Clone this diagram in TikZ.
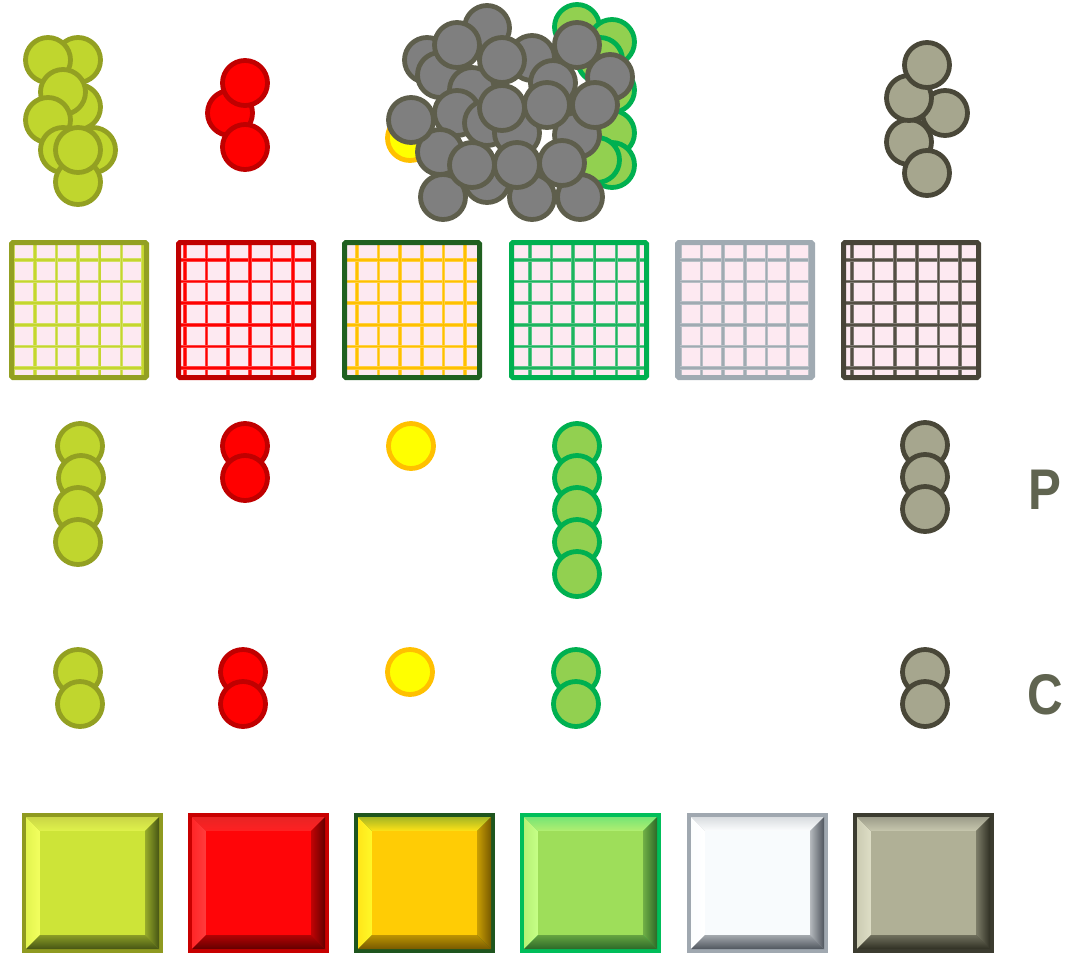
\documentclass[tikz,border=0pt]{standalone}
\usepackage{fontspec}
\setmainfont{Liberation Sans}
\newfontfamily\narrowsans[FakeStretch=0.86]{Liberation Sans}
\usepackage{tikz}
\usepackage{xcolor}
% ball colours
\definecolor{olivefill}{RGB}{192,214,46}
\definecolor{oliveline}{RGB}{147,160,34}
\definecolor{redfill}{RGB}{255,0,0}
\definecolor{redline}{RGB}{192,0,0}
\definecolor{yelfill}{RGB}{255,255,0}
\definecolor{yelline}{RGB}{255,192,0}
\definecolor{grnfill}{RGB}{146,208,80}
\definecolor{grnline}{RGB}{0,176,80}
\definecolor{taupefill}{RGB}{166,166,142}
\definecolor{taupeline}{RGB}{73,71,56}
\definecolor{grayfill}{RGB}{127,127,127}
\definecolor{grayline}{RGB}{94,94,76}
\definecolor{labelgray}{RGB}{96,100,80}
% grid colours
\definecolor{gridpink}{RGB}{253,233,241}
\definecolor{gridolv}{RGB}{197,214,46}
\definecolor{gridgrnb}{RGB}{32,96,32}
\definecolor{gridgrn}{RGB}{30,180,95}
\definecolor{gridsil}{RGB}{160,170,178}
\definecolor{gridbrn}{RGB}{72,68,56}
\definecolor{gridbrnl}{RGB}{84,78,68}
% tile colours
\definecolor{tedgeA}{RGB}{143,154,32}\definecolor{tfaceA}{RGB}{205,228,56}
\definecolor{tliteA}{RGB}{242,255,95}\definecolor{tdarkA}{RGB}{70,85,20}
\definecolor{tedgeB}{RGB}{200,0,0}\definecolor{tfaceB}{RGB}{255,5,8}
\definecolor{tliteB}{RGB}{255,60,60}\definecolor{tdarkB}{RGB}{100,0,0}
\definecolor{tedgeC}{RGB}{30,85,30}\definecolor{tfaceC}{RGB}{255,204,5}
\definecolor{tliteC}{RGB}{255,248,40}\definecolor{tdarkC}{RGB}{120,90,0}
\definecolor{tedgeD}{RGB}{0,190,90}\definecolor{tfaceD}{RGB}{158,222,90}
\definecolor{tliteD}{RGB}{198,255,135}\definecolor{tdarkD}{RGB}{45,105,40}
\definecolor{tedgeE}{RGB}{160,168,176}\definecolor{tfaceE}{RGB}{248,251,253}
\definecolor{tliteE}{RGB}{255,255,255}\definecolor{tdarkE}{RGB}{80,86,94}
\definecolor{tedgeF}{RGB}{60,60,48}\definecolor{tfaceF}{RGB}{176,176,150}
\definecolor{tliteF}{RGB}{222,222,198}\definecolor{tdarkF}{RGB}{48,48,36}

\tikzset{
  ball/.style={circle, inner sep=0pt, minimum size=33.75pt, line width=3.6pt},
  ballolv/.style={ball, draw=oliveline, fill=olivefill},
  ballred/.style={ball, draw=redline, fill=redfill},
  ballyel/.style={ball, draw=yelline, fill=yelfill},
  ballgrn/.style={ball, draw=grnline, fill=grnfill},
  balltau/.style={ball, draw=taupeline, fill=taupefill},
  ballgry/.style={ball, draw=grayline, fill=grayfill},
  rowlabel/.style={font=\narrowsans\fontsize{43}{43}\selectfont\bfseries, text=labelgray, inner sep=0pt}
}

\begin{document}
\begin{tikzpicture}[x=0.75pt, y=-0.75pt]
  \useasboundingbox (0,0) rectangle (1078,954);
  % Top clusters
  \foreach \p [count=\i] in {(78,60),(48,60),(78,107),(63,92),(48,120),(93,150),(63,150),(78,182),(78,150)}
    \node[ballolv] (topolv\i) at \p {};
  \foreach \p [count=\i] in {(230,113),(245,83),(245,147)}
    \node[ballred] (topred\i) at \p {};
  \foreach \p [count=\i] in {(945,113),(909,142),(909,98),(927,65),(927,173)}
    \node[balltau] (toptau\i) at \p {};
  \foreach \p [count=\i] in {(577,27),(612,42),(600,60),(612,90),(612,133),(612,165),(597,160)}
    \node[ballgrn] (topgrn\i) at \p {};
  \node[ballyel] (topyel) at (410,138) {};
  \foreach \p [count=\i] in {(487,28),(427,60),(532,58),(440,75),(472,90),(553,83),(457,113),(487,123),
      (517,133),(577,135),(440,152),(443,197),(487,180),(532,197),(580,197),(457,45),(502,60),(577,45),
      (610,77),(502,108),(547,105),(595,105),(411,120),(472,165),(517,165),(562,163)}
    \node[ballgry] (topgry\i) at \p {};
  % Grids
  \foreach \x/\bord/\ln/\ox in {9/oliveline/gridolv/4.3, 176/redline/redfill/9, 342/gridgrnb/yelline/15,
      509/grnline/gridgrn/20.9, 675/gridsil/gridsil/5, 841/gridbrn/gridbrnl/11} {
    \fill[gridpink] (\x+2.5,242.5) rectangle (\x+137.5,377.5);
    \begin{scope}
      \clip (\x+2.5,242.5) rectangle (\x+137.5,377.5);
      \foreach \k in {-1,...,6} {
        \draw[\ln!75, line width=2.6pt] (\x+\ox+\k*21.6,240) -- ++(0,140);
        \draw[\ln!75, line width=2.6pt] (\x,238.4+\k*21.6) -- ++(140,0);
        \draw[\ln, line width=1.2pt] (\x+\ox+\k*21.6,240) -- ++(0,140);
        \draw[\ln, line width=1.2pt] (\x,238.4+\k*21.6) -- ++(140,0);
      }
    \end{scope}
    \draw[\bord, line width=3.75pt, rounded corners=1pt] (\x+2.5,242.5) rectangle (\x+137.5,377.5);
  }
  % Row P
  \foreach \x/\y [count=\i] in {80/446,81/478,78/510,78/542}
    \node[ballolv] (polv\i) at (\x,\y) {};
  \foreach \y [count=\i] in {446,478}
    \node[ballred] (pred\i) at (245,\y) {};
  \node[ballyel] (pyel) at (411,446) {};
  \foreach \y [count=\i] in {446,478,510,542,574}
    \node[ballgrn] (pgrn\i) at (577,\y) {};
  \foreach \y [count=\i] in {445,477,509}
    \node[balltau] (ptau\i) at (925,\y) {};
  \node[rowlabel] (lblP) at (1045,490) {P};
  % Row C
  \foreach \x/\y [count=\i] in {78/672,80/704}
    \node[ballolv] (colv\i) at (\x,\y) {};
  \foreach \y [count=\i] in {672,704}
    \node[ballred] (cred\i) at (243,\y) {};
  \node[ballyel] (cyel) at (410,672) {};
  \foreach \y [count=\i] in {672,704}
    \node[ballgrn] (cgrn\i) at (576,\y) {};
  \foreach \y [count=\i] in {672,704}
    \node[balltau] (ctau\i) at (925,\y) {};
  \node[rowlabel] (lblC) at (1045,695) {C};
  % Bevelled tiles
  \foreach \x/\t in {22/A,188/B,354/C,520/D,687/E,853/F} {
    \fill[tedge\t] (\x,813) rectangle ++(141,140);
    \shade[top color=tedge\t!40!tlite\t, bottom color=tlite\t!50!tface\t] (\x+4,817) -- (\x+137,817) -- (\x+123,831) -- (\x+18,831) -- cycle;
    \shade[left color=tlite\t!60!tface\t, right color=tlite\t] (\x+4,817) -- (\x+18,831) -- (\x+18,935) -- (\x+4,949) -- cycle;
    \shade[left color=tface\t!60!tdark\t, right color=tdark\t] (\x+137,817) -- (\x+137,949) -- (\x+123,935) -- (\x+123,831) -- cycle;
    \shade[top color=tface\t!50!tdark\t, bottom color=tdark\t] (\x+4,949) -- (\x+137,949) -- (\x+123,935) -- (\x+18,935) -- cycle;
    \fill[tface\t] (\x+18,831) rectangle (\x+123,935);
  }
\end{tikzpicture}
\end{document}
